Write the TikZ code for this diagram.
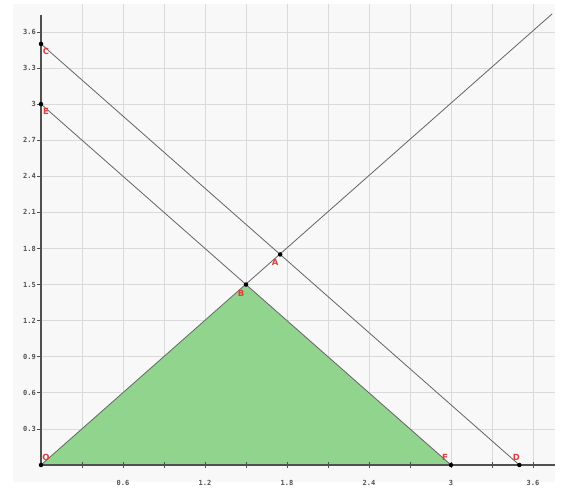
\documentclass[tikz,border=0pt]{standalone}
\usepackage{fontspec}
\newfontfamily\tickfont{DejaVu Sans Mono}
\newfontfamily\ptfont{DejaVu Sans}
\definecolor{panel}{RGB}{248,248,248}
\definecolor{gridc}{RGB}{218,218,218}
\definecolor{axisc}{RGB}{80,80,80}
\definecolor{linec}{RGB}{100,100,100}
\definecolor{fillg}{RGB}{144,212,142}
\definecolor{ptred}{RGB}{225,60,60}
\definecolor{tickc}{RGB}{80,80,80}
\tikzset{
  gridline/.style={draw=gridc,line width=0.8pt},
  axisline/.style={draw=axisc,line width=1.4pt},
  geoline/.style={draw=linec,line width=0.8pt},
  tickmark/.style={draw=axisc,line width=0.7pt},
  ticklab/.style={font=\tickfont\bfseries\fontsize{7}{8}\selectfont,text=tickc,inner sep=0pt},
  ptdot/.style={circle,fill=black,inner sep=0pt,minimum size=4.5pt},
  ptlab/.style={font=\ptfont\bfseries\fontsize{8.5}{9}\selectfont,text=ptred,inner sep=0pt}
}
\begin{document}
\begin{tikzpicture}
\useasboundingbox (0,0) rectangle (563pt,489pt);
\fill[white] (0,0) rectangle (563pt,489pt);
\fill[panel] (13pt,7pt) rectangle (555pt,485pt);
\begin{scope}[shift={(41pt,24pt)},x=136.67pt,y=120.3pt]
  % grid
  \foreach \k in {1,...,12}{
    \draw[gridline] ({0.3*\k},0) -- ({0.3*\k},3.83);
    \draw[gridline] (0,{0.3*\k}) -- (3.76,{0.3*\k});
  }
  % points
  \coordinate (O) at (0,0);
  \coordinate (A) at (1.75,1.75);
  \coordinate (B) at (1.5,1.5);
  \coordinate (C) at (0,3.5);
  \coordinate (D) at (3.5,0);
  \coordinate (E) at (0,3);
  \coordinate (F) at (3,0);
  \coordinate (G) at (3.74,3.75);
  % triangle
  \fill[fillg] (O) -- (B) -- (F) -- cycle;
  % lines
  \draw[geoline] (O) -- (G);
  \draw[geoline] (C) -- (D);
  \draw[geoline] (E) -- (F);
  % axes
  \coordinate (XE) at (3.76,0);
  \coordinate (YE) at (0,3.74);
  \draw[axisline] (O) -- (XE);
  \draw[axisline] (O) -- (YE);
  % ticks
  \foreach \k in {1,...,12}{
    \draw[tickmark] ({0.3*\k},0) ++(0,-3pt) -- ++(0,6pt);
    \draw[tickmark] (0,{0.3*\k}) ++(-4pt,0) -- ++(4pt,0);
  }
  \foreach \v/\t in {0.6/0.6,1.2/1.2,1.8/1.8,2.4/2.4,3/3,3.6/3.6}
    \node[ticklab] (xl\t) at (\v,0) [yshift=-18pt] {\t};
  \foreach \v/\t in {0.3/0.3,0.6/0.6,0.9/0.9,1.2/1.2,1.5/1.5,1.8/1.8,2.1/2.1,2.4/2.4,2.7/2.7,3/3,3.3/3.3,3.6/3.6}
    \node[ticklab,anchor=east] (yl\t) at (0,\v) [xshift=-5pt] {\t};
  % dots
  \foreach \p in {O,A,B,C,D,E,F}
    \node[ptdot] (d\p) at (\p) {};
  % labels
  \node[ptlab] (lC) at (C) [xshift=5pt,yshift=-7pt] {C};
  \node[ptlab] (lE) at (E) [xshift=5pt,yshift=-7pt] {E};
  \node[ptlab] (lO) at (O) [xshift=5pt,yshift=8pt] {O};
  \node[ptlab] (lF) at (F) [xshift=-6pt,yshift=8pt] {F};
  \node[ptlab] (lD) at (D) [xshift=-3pt,yshift=8pt] {D};
  \node[ptlab] (lA) at (A) [xshift=-5pt,yshift=-8pt] {A};
  \node[ptlab] (lB) at (B) [xshift=-5pt,yshift=-9pt] {B};
\end{scope}
\end{tikzpicture}
\end{document}
